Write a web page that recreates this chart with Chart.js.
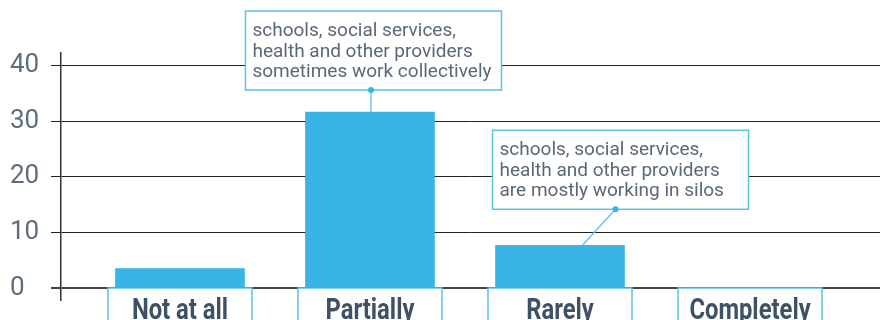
<!DOCTYPE html>
<html>
<head>
<meta charset="utf-8">
<script src="https://cdn.jsdelivr.net/npm/chart.js@4.4.0/dist/chart.umd.min.js"></script>
<style>
  body { margin: 0; background: #fff; }
  canvas { display: block; }
</style>
</head>
<body>
<canvas id="bar_chart" width="889" height="320"></canvas>
<script>
var categories = ["Not at all", "Partially", "Rarely", "Completely"];
var values = [3.5, 31.7, 7.7, 0];
var y_ticks = [0, 10, 20, 30, 40];

var notes = [
    { index: 1, lines: ["schools, social services,", "health and other providers", "sometimes work collectively"] },
    { index: 2, lines: ["schools, social services,", "health and other providers", "are mostly working in silos"] }
];

var BLUE = "#38b4e6";
var BOX_BLUE = "#5bc0eb";

function plotBarChart() {
    buildBarChart();
}

function labelBoxes(chart) {
    var ctx = chart.ctx;
    var xs = chart.scales.x;
    var ys = chart.scales.y;
    var top = ys.getPixelForValue(0);
    ctx.save();
    for (var i = 0; i < categories.length; i++) {
        var cx = xs.getPixelForValue(i);
        ctx.fillStyle = "#fff";
        ctx.fillRect(cx - 72, top, 144, 40);
        ctx.strokeStyle = BOX_BLUE;
        ctx.lineWidth = 1.5;
        ctx.strokeRect(cx - 72, top, 144, 40);
        // condensed bold look
        ctx.save();
        ctx.translate(cx, top + 31);
        ctx.scale(0.82, 1);
        ctx.font = "bold 29px Roboto";
        ctx.fillStyle = "#3e5166";
        ctx.textAlign = "center";
        ctx.textBaseline = "alphabetic";
        ctx.fillText(categories[i], 0, 0);
        ctx.restore();
    }
    ctx.restore();
}

function noteBox(ctx, left, top, lines) {
    ctx.fillStyle = "#fff";
    ctx.fillRect(left, top, 256, 79);
    ctx.strokeStyle = BOX_BLUE;
    ctx.lineWidth = 1.5;
    ctx.strokeRect(left, top, 256, 79);
    ctx.font = "19px Roboto";
    ctx.fillStyle = "#5a6878";
    ctx.textAlign = "left";
    ctx.textBaseline = "alphabetic";
    for (var j = 0; j < lines.length; j++) {
        ctx.fillText(lines[j], left + 7, top + 25 + j * 20.5);
    }
}

function connector(ctx, x1, y1, x2, y2) {
    ctx.strokeStyle = "#6cc6ee";
    ctx.lineWidth = 1.5;
    ctx.beginPath();
    ctx.moveTo(x1, y1);
    ctx.lineTo(x2, y2);
    ctx.stroke();
    ctx.fillStyle = BLUE;
    ctx.beginPath();
    ctx.arc(x1, y1, 3, 0, Math.PI * 2);
    ctx.fill();
}

function drawNotes(chart) {
    var ctx = chart.ctx;
    var xs = chart.scales.x;
    var ys = chart.scales.y;
    ctx.save();
    // first note: straight above the bar
    var n1 = notes[0];
    var bx = xs.getPixelForValue(n1.index);
    var by = ys.getPixelForValue(values[n1.index]);
    var bottom1 = by - 22;
    noteBox(ctx, bx + 3.5 - 128, bottom1 - 79, n1.lines);
    connector(ctx, bx + 1, bottom1, bx + 1, by);
    // second note: offset up and to the right
    var n2 = notes[1];
    bx = xs.getPixelForValue(n2.index);
    by = ys.getPixelForValue(values[n2.index]);
    var bottom2 = by - 36;
    noteBox(ctx, bx - 67.5, bottom2 - 79, n2.lines);
    connector(ctx, bx + 55.5, bottom2, bx + 22.5, by);
    ctx.restore();
}

function buildBarChart() {
    var bc = document.getElementById('bar_chart');
    var points = values.map(function (v, i) { return { x: i, y: v }; });
    var barChart = new Chart(bc, {
        type: 'bar',
        data: {
            datasets: [{
                label: "Responses",
                data: points,
                backgroundColor: BLUE,
                borderWidth: 0,
                barThickness: 129
            }]
        },
        options: {
            responsive: false,
            animation: false,
            layout: { padding: { top: 53, right: 9, bottom: 20, left: 10 } },
            plugins: {
                legend: { display: false },
                tooltip: { enabled: false }
            },
            scales: {
                x: {
                    type: 'linear',
                    min: -0.626,
                    max: 3.684,
                    offset: false,
                    display: false
                },
                y: {
                    min: -2.16,
                    max: 42.34,
                    afterFit: function (s) {
                        s.width = 51;
                        s.paddingTop = 0;
                        s.paddingBottom = 0;
                    },
                    afterBuildTicks: function (s) {
                        s.ticks = y_ticks.map(function (v) { return { value: v }; });
                    },
                    border: { color: "#333", width: 1.5 },
                    grid: {
                        color: function (c) { return c.tick && c.tick.value === 0 ? "#444" : "#222"; },
                        lineWidth: function (c) { return c.tick && c.tick.value === 0 ? 2 : 1; },
                        tickLength: 10
                    },
                    ticks: {
                        padding: 13,
                        crossAlign: 'far',
                        color: "#5d6d7d",
                        font: { family: "Roboto", size: 26 }
                    }
                }
            }
        },
        plugins: [{
            id: 'boxes',
            afterDraw: function (chart) {
                labelBoxes(chart);
                drawNotes(chart);
            }
        }]
    });
}

plotBarChart();
</script>
</body>
</html>
